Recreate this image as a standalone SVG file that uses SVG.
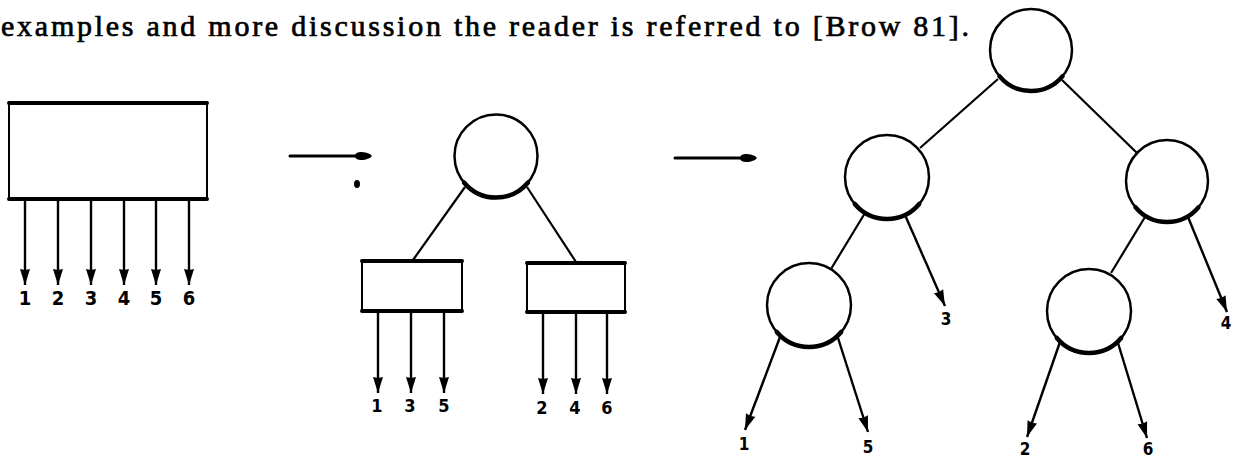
<svg xmlns="http://www.w3.org/2000/svg" width="1234" height="459" viewBox="0 0 1234 459">
  <style>
    .para { font-family: "Liberation Serif", "DejaVu Serif", serif; font-size: 30px; fill: #000; stroke: #000; stroke-width: 0.7px; }
    .lbl { font-family: "DejaVu Sans Condensed", "Liberation Sans", sans-serif; font-weight: bold; font-stretch: condensed; fill: #000; text-anchor: middle; }
    .big { font-size: 20px; }
    .mid { font-size: 18px; }
    .sm { font-size: 17px; }
    .node { fill: #fff; stroke: #000; stroke-width: 2.5; }
    .rim { fill: none; stroke: #000; stroke-width: 4.5; stroke-linecap: round; }
    .side { stroke: #000; stroke-width: 2; fill: none; }
    .edge { stroke: #000; stroke-width: 4; fill: none; stroke-linecap: round; }
    .link { stroke: #000; stroke-width: 2.2; fill: none; }
    .out { stroke: #000; stroke-width: 2.4; fill: none; marker-end: url(#head); }
    .thick { stroke: #000; stroke-width: 3; fill: none; stroke-linecap: round; }
  </style>
  <defs>
    <marker id="head" markerUnits="userSpaceOnUse" markerWidth="18" markerHeight="12" viewBox="-17 -6 18 12" refX="0" refY="0" orient="auto">
      <path d="M0,0 L-16,-5 L-15,0 L-16,5 Z" fill="#000"/>
    </marker>
    <path id="blob" d="M-17,0 C-17,-5 -8,-5 -2,-2 L0,0 L-2,2 C-8,5 -17,5 -17,0 Z" fill="#000"/>
  </defs>

  <rect width="1234" height="459" fill="#fff"/>

  <!-- running text above the figure -->
  <text class="para" x="1" y="36" textLength="968" lengthAdjust="spacing">examples and more discussion the reader is referred to [Brow 81].</text>

  <!-- stage 1: single box with six outputs -->
  <g id="box-all">
    <line class="side" x1="9" y1="103" x2="9" y2="199"/>
    <line class="side" x1="207" y1="103" x2="207" y2="199"/>
    <line class="edge" x1="9" y1="103" x2="207" y2="103"/>
    <line class="edge" x1="9" y1="199" x2="207" y2="199"/>
  </g>

  <!-- stage 2: root test with two half boxes -->
  <g id="root-mid">
    <circle class="node" cx="496" cy="156" r="41.5"/>
    <path class="rim" d="M464.2,182.7 A41.5,41.5 0 0 0 527.8,182.7"/>
  </g>
  <g id="box-odd">
    <line class="side" x1="362" y1="261" x2="362" y2="311"/>
    <line class="side" x1="462" y1="261" x2="462" y2="311"/>
    <line class="edge" x1="362" y1="261" x2="462" y2="261"/>
    <line class="edge" x1="362" y1="311" x2="462" y2="311"/>
  </g>
  <g id="box-even">
    <line class="side" x1="527" y1="263" x2="527" y2="312"/>
    <line class="side" x1="625" y1="263" x2="625" y2="312"/>
    <line class="edge" x1="527" y1="263" x2="625" y2="263"/>
    <line class="edge" x1="527" y1="312" x2="625" y2="312"/>
  </g>

  <!-- stage 3: full binary tree -->
  <g id="t-root">
    <circle class="node" cx="1031" cy="50" r="41"/>
    <path class="rim" d="M999.6,76.4 A41,41 0 0 0 1062.4,76.4"/>
  </g>
  <g id="t-left">
    <circle class="node" cx="887" cy="177" r="42"/>
    <path class="rim" d="M854.8,204 A42,42 0 0 0 919.2,204"/>
  </g>
  <g id="t-right">
    <circle class="node" cx="1167" cy="181" r="41"/>
    <path class="rim" d="M1135.6,207.4 A41,41 0 0 0 1198.4,207.4"/>
  </g>
  <g id="t-left-left">
    <circle class="node" cx="809" cy="305" r="42"/>
    <path class="rim" d="M776.8,332 A42,42 0 0 0 841.2,332"/>
  </g>
  <g id="t-right-left">
    <circle class="node" cx="1089" cy="311" r="42"/>
    <path class="rim" d="M1056.8,338 A42,42 0 0 0 1121.2,338"/>
  </g>

  <!-- connectors -->
  <g id="connectors">
    <!-- transformation arrows between stages -->
    <line class="thick" x1="290" y1="156" x2="358" y2="156"/>
    <use href="#blob" x="372" y="156"/>
    <ellipse cx="357" cy="184" rx="3" ry="4" fill="#000"/>
    <line class="thick" x1="675" y1="158" x2="743" y2="158"/>
    <use href="#blob" x="757" y="158"/>

    <!-- stage 1 outputs -->
    <line class="out" x1="25" y1="200" x2="25" y2="285"/>
    <line class="out" x1="58" y1="200" x2="58" y2="285"/>
    <line class="out" x1="91" y1="200" x2="91" y2="285"/>
    <line class="out" x1="124" y1="200" x2="124" y2="285"/>
    <line class="out" x1="156" y1="200" x2="156" y2="285"/>
    <line class="out" x1="189" y1="200" x2="189" y2="285"/>

    <!-- stage 2 -->
    <line class="link" x1="465" y1="187" x2="413" y2="260"/>
    <line class="link" x1="527" y1="187" x2="576" y2="262"/>
    <line class="out" x1="378" y1="312" x2="378" y2="393"/>
    <line class="out" x1="411" y1="312" x2="411" y2="393"/>
    <line class="out" x1="444" y1="312" x2="444" y2="393"/>
    <line class="out" x1="543" y1="313" x2="543" y2="394"/>
    <line class="out" x1="576" y1="313" x2="576" y2="394"/>
    <line class="out" x1="607" y1="313" x2="607" y2="394"/>

    <!-- stage 3 -->
    <line class="link" x1="998" y1="79" x2="920" y2="148"/>
    <line class="link" x1="1062" y1="80" x2="1137" y2="153"/>
    <line class="link" x1="865" y1="213" x2="831" y2="269"/>
    <line class="link" x1="1145" y1="217" x2="1111" y2="273"/>
    <line class="out" x1="905" y1="215" x2="945" y2="306"/>
    <line class="out" x1="1188" y1="217" x2="1227" y2="312"/>
    <line class="out" x1="780" y1="337" x2="745" y2="430"/>
    <line class="out" x1="838" y1="338" x2="868" y2="432"/>
    <line class="out" x1="1060" y1="342" x2="1027" y2="437"/>
    <line class="out" x1="1118" y1="343" x2="1147" y2="438"/>
  </g>

  <!-- output labels -->
  <g id="labels">
    <text class="lbl big" x="25" y="305">1</text>
    <text class="lbl big" x="58" y="305">2</text>
    <text class="lbl big" x="91" y="305">3</text>
    <text class="lbl big" x="124" y="305">4</text>
    <text class="lbl big" x="156" y="305">5</text>
    <text class="lbl big" x="189" y="305">6</text>

    <text class="lbl mid" x="377" y="412">1</text>
    <text class="lbl mid" x="410" y="412">3</text>
    <text class="lbl mid" x="444" y="412">5</text>
    <text class="lbl mid" x="542" y="414">2</text>
    <text class="lbl mid" x="575" y="414">4</text>
    <text class="lbl mid" x="607" y="414">6</text>

    <text class="lbl sm" x="946" y="325">3</text>
    <text class="lbl sm" x="1226" y="329">4</text>
    <text class="lbl sm" x="744" y="450">1</text>
    <text class="lbl sm" x="868" y="453">5</text>
    <text class="lbl sm" x="1025" y="455">2</text>
    <text class="lbl sm" x="1148" y="455">6</text>
  </g>
</svg>
